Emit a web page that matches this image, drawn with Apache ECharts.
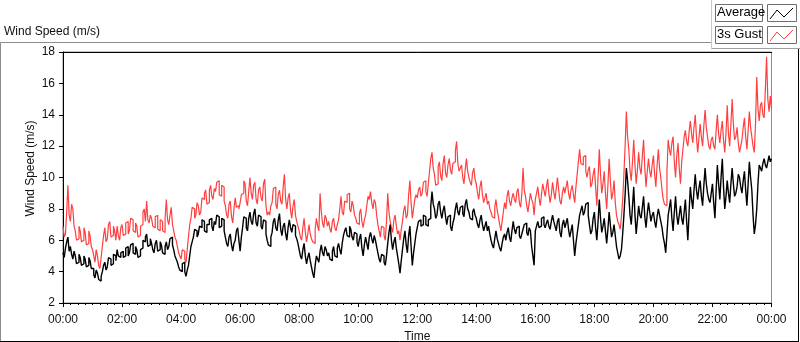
<!DOCTYPE html>
<html>
<head>
<meta charset="utf-8">
<script src="https://cdn.jsdelivr.net/npm/echarts@6/dist/echarts.min.js"></script>
<style>
html,body{margin:0;padding:0;background:#fff;}
#c{width:800px;height:342px;}
</style>
</head>
<body>
<div id="c"></div>
<script>
// Time axis tick labels (every 2 hours)
const timeLabels = ['00:00','02:00','04:00','06:00','08:00','10:00','12:00','14:00','16:00','18:00','20:00','22:00','00:00'];
const stepMinutes = 2.5;
const seriesNames = ['Average', '3s Gust'];

// Average wind speed (m/s), one value every 2.5 minutes (24 per hour), 00:00 .. 24:00
const average = [
  5.2,4.9,5.5,5.9,6.2,5.3,5.6,5.1,4.8,5.3,5.0,4.5,4.6,5.1,4.9,4.4,4.5,5.0,4.8,4.3,4.4,4.9,4.7,4.2,
  4.2,3.8,3.6,4.1,3.9,3.5,3.4,3.7,4.0,4.4,4.6,4.1,4.3,4.9,4.8,4.4,4.5,5.1,5.0,4.7,5.4,5.0,4.9,5.2,
  5.3,4.9,5.0,5.5,5.6,5.0,5.2,5.7,5.8,5.2,5.1,5.6,5.4,4.9,5.0,5.4,5.5,6.0,5.9,6.2,6.4,5.6,5.7,6.1,
  5.8,5.4,5.2,5.8,6.0,5.3,5.4,5.9,5.7,5.2,5.1,5.6,5.9,5.4,5.6,6.1,6.2,5.7,5.4,5.0,4.8,4.6,4.3,4.1,
  4.0,4.5,4.6,4.0,3.7,4.1,4.4,5.0,5.6,5.9,6.2,6.7,6.6,6.2,6.4,6.9,6.8,7.3,7.2,6.6,6.5,7.0,7.0,7.3,
  7.4,6.9,6.6,7.2,7.0,7.6,7.5,6.8,6.9,7.4,7.3,6.6,6.2,5.8,5.6,6.2,6.4,5.7,5.3,5.8,6.0,6.6,6.8,6.0,
  5.3,6.2,6.8,7.5,7.4,6.8,6.6,7.4,7.8,7.2,7.0,7.7,8.0,7.1,6.9,7.6,7.5,6.9,6.7,7.3,7.2,6.4,6.0,5.7,
  5.6,6.2,6.5,7.2,7.4,6.8,6.6,7.3,7.7,6.7,6.3,6.9,7.1,6.4,6.0,6.8,7.3,6.8,6.5,7.0,6.9,6.3,6.1,5.8,
  5.4,5.0,4.8,5.4,5.8,5.0,4.5,4.9,5.2,4.7,4.3,3.9,3.6,4.4,5.0,4.8,4.6,5.3,5.7,5.2,5.0,5.6,5.4,5.0,
  5.2,4.8,4.7,5.3,5.6,5.0,4.9,5.5,5.8,5.4,5.1,5.8,6.3,6.6,6.8,6.3,6.2,6.9,6.7,6.2,6.0,6.5,6.4,5.9,
  5.6,6.1,6.4,5.5,5.0,5.7,6.2,5.8,5.4,6.2,6.5,6.1,5.8,6.3,6.0,5.6,5.2,4.8,4.6,5.1,5.0,4.6,4.4,5.0,
  5.8,6.5,7.0,6.0,5.4,5.9,6.2,5.5,5.0,4.5,3.9,4.7,5.4,6.1,6.6,5.7,5.2,6.3,6.9,5.6,4.4,5.2,5.8,6.4,
  6.8,7.2,7.3,6.9,7.0,7.6,7.5,7.0,6.9,7.3,7.4,8.2,9.1,8.3,8.0,7.4,7.6,8.3,8.5,7.8,7.4,7.9,8.2,7.5,
  7.0,7.5,7.6,6.9,6.6,7.1,7.4,8.0,8.4,7.8,7.6,8.1,8.2,7.7,7.5,8.3,8.6,8.0,7.8,7.4,7.3,7.8,8.0,7.6,
  7.4,7.0,6.8,7.3,7.6,7.0,6.6,6.9,7.2,6.6,6.9,6.4,6.0,5.7,5.5,6.1,6.6,6.1,5.8,5.5,5.3,5.8,6.2,6.4,
  6.0,6.5,6.8,6.2,5.9,6.6,7.2,6.7,6.4,6.8,6.9,6.3,6.1,6.4,6.7,7.0,7.1,6.5,6.3,6.8,6.6,5.6,5.0,4.4,
  6.6,6.9,7.2,6.8,6.9,7.4,7.5,7.0,6.8,7.1,7.3,6.9,6.7,7.2,7.6,7.2,6.9,6.6,7.2,7.4,6.5,6.2,7.0,7.3,
  6.8,7.1,7.4,6.7,6.2,6.6,7.0,6.0,5.0,5.8,6.4,7.0,7.6,7.9,8.2,7.6,7.8,8.3,8.4,7.6,7.0,6.4,6.6,7.4,
  7.8,6.8,6.0,7.2,8.6,7.4,6.5,6.9,7.4,6.6,5.8,6.7,7.8,7.0,6.2,6.5,7.0,6.3,5.6,5.2,4.8,5.0,5.4,6.4,
  7.6,8.9,10.6,9.8,8.8,7.6,7.0,8.2,9.4,7.6,6.4,7.3,8.2,7.6,7.4,8.1,8.8,7.5,6.8,7.7,8.4,7.8,7.2,7.6,
  7.8,7.2,6.8,7.5,8.0,7.6,7.2,6.8,6.2,5.8,5.2,6.4,7.6,8.1,8.6,7.4,6.6,7.8,8.8,7.6,7.0,7.6,8.2,7.4,
  7.0,7.8,8.6,7.2,6.0,7.8,9.4,8.6,8.0,9.2,10.2,9.2,8.6,9.3,9.8,8.8,8.2,9.5,10.6,9.6,9.0,8.6,8.4,9.0,
  9.6,8.4,7.4,9.2,10.8,9.6,8.6,10.0,11.2,9.4,8.0,8.8,9.8,9.0,8.4,9.6,10.6,9.6,8.8,9.0,9.4,10.2,10.0,9.4,
  9.0,9.8,10.4,9.2,8.2,9.6,11.0,10.0,9.2,7.6,6.4,7.0,8.0,9.6,10.8,10.6,10.4,10.9,11.2,10.8,10.6,11.0,11.4,11.0,
  11.2
];

// 3-second gust (m/s), one value every 2.5 minutes (24 per hour), 00:00 .. 24:00
const gust = [
  6.9,6.2,6.4,7.8,9.5,7.6,7.2,8.3,8.0,6.9,6.6,6.0,6.1,6.9,6.6,5.9,6.0,6.8,6.5,5.7,5.8,6.6,6.3,5.6,
  5.4,5.0,4.6,5.4,5.0,4.4,4.2,4.9,5.6,6.3,6.8,5.9,6.1,7.0,7.2,6.2,6.3,6.9,6.6,6.0,6.9,6.3,6.0,6.8,
  7.0,6.3,6.4,7.1,7.2,6.4,6.6,7.4,7.3,6.6,6.5,7.1,6.9,6.2,6.3,6.9,7.0,7.8,8.0,7.2,8.5,7.3,7.1,7.6,
  7.4,6.9,6.8,7.5,7.6,6.7,6.6,7.3,7.2,6.6,6.5,7.4,8.6,7.3,7.0,7.6,8.1,7.0,6.6,6.2,6.0,5.6,5.2,5.0,
  4.8,5.4,5.3,4.8,4.6,5.4,6.2,7.0,7.4,8.1,8.0,7.4,7.6,8.4,8.2,7.6,7.8,8.7,8.6,9.0,9.2,8.3,8.4,9.2,
  9.5,8.8,8.6,9.3,9.1,9.7,9.8,8.9,8.8,9.5,9.4,8.5,8.2,7.6,7.4,8.3,8.5,7.5,7.1,8.0,8.7,8.1,8.2,8.0,
  8.4,8.9,9.0,9.8,9.6,8.5,8.2,9.1,10.0,9.0,8.6,9.5,9.7,8.6,8.3,9.2,9.4,8.7,8.5,9.6,9.9,8.2,7.6,7.8,
  7.6,8.2,8.4,9.3,9.4,8.3,8.0,8.9,9.2,8.5,8.3,9.4,10.2,8.6,8.0,8.7,9.0,7.9,7.4,8.2,8.6,7.6,7.2,6.9,
  6.6,6.2,6.0,6.8,7.4,6.5,5.9,6.4,7.0,6.4,6.1,5.9,5.8,6.7,7.4,6.9,6.6,9.0,7.8,7.1,6.8,7.6,7.4,6.9,
  7.2,6.7,6.5,7.2,7.4,6.8,6.6,7.0,7.3,8.0,8.8,7.8,7.6,8.5,8.4,8.9,9.0,8.0,7.8,8.5,8.2,7.6,7.4,7.1,
  7.0,7.7,8.0,7.2,6.8,7.3,7.6,8.2,8.8,8.6,9.1,8.4,8.0,8.6,8.4,7.6,7.0,6.6,6.2,6.9,6.8,6.3,6.0,7.2,
  9.0,7.8,7.2,6.8,6.5,7.3,7.6,6.9,6.4,6.6,6.0,6.7,7.2,7.9,8.2,7.4,7.6,8.9,9.8,8.4,7.4,8.0,8.6,8.9,
  8.7,9.2,9.4,8.8,9.0,9.7,9.8,9.1,8.8,9.6,10.4,11.2,11.6,10.6,10.2,9.5,9.6,10.7,11.0,10.1,9.8,10.9,11.4,10.3,
  10.0,10.8,11.2,10.5,10.2,10.9,11.0,11.7,12.3,10.9,10.4,10.6,10.8,10.0,9.6,10.5,11.2,10.4,10.0,9.7,9.5,10.3,10.6,9.9,
  9.6,9.0,8.6,9.4,9.8,8.9,8.4,8.7,9.0,8.3,8.5,8.0,7.8,7.5,7.4,8.1,8.6,7.9,7.5,7.0,6.6,7.2,7.8,8.4,
  8.0,8.8,9.2,8.5,8.2,8.7,9.0,8.6,8.4,9.1,9.3,8.4,8.1,8.9,10.6,9.2,8.8,8.2,7.8,8.4,9.0,8.6,8.4,7.6,
  8.6,9.0,9.4,8.7,8.2,8.9,9.6,9.2,8.8,9.4,9.9,9.0,8.4,8.9,9.7,9.1,8.6,9.3,10.0,9.2,8.5,8.3,9.0,9.4,
  9.0,9.4,9.8,9.0,8.6,9.2,9.5,8.9,8.4,9.4,10.2,11.0,11.8,10.9,10.8,11.3,11.4,10.4,10.0,10.5,10.7,9.4,9.6,10.2,
  10.6,9.4,8.2,10.0,11.8,10.2,9.0,9.6,10.4,9.0,8.0,9.5,11.2,9.8,8.6,9.0,9.8,8.4,7.6,7.2,7.0,6.7,7.5,8.6,
  10.2,12.0,14.2,12.6,11.8,10.4,9.8,11.0,12.4,10.8,9.6,10.5,11.6,10.6,10.2,11.4,12.4,10.6,9.4,10.4,11.2,10.4,10.0,10.8,
  11.4,10.2,9.4,10.8,11.8,10.6,10.0,9.2,8.6,8.3,8.2,10.4,12.4,11.8,11.4,12.2,12.6,11.0,10.0,11.4,12.2,10.6,9.6,11.0,
  11.8,12.6,13.0,12.3,12.0,12.9,13.6,12.8,12.2,13.2,14.0,12.6,11.6,12.5,13.4,12.6,12.0,13.3,14.3,13.2,12.6,12.0,11.8,12.4,
  12.6,12.0,11.8,13.0,14.0,12.8,12.2,13.0,13.6,12.4,11.6,12.8,14.6,12.8,12.0,13.4,15.0,13.4,12.4,12.6,13.2,12.2,11.6,12.0,
  12.4,13.2,13.8,12.6,11.8,13.0,14.2,13.2,12.6,12.0,11.6,13.4,16.4,14.4,13.6,14.6,14.8,14.0,13.8,15.6,17.7,15.0,14.2,15.2,
  14.4
];

const toPairs = arr => arr.map((v, i) => [i * stepMinutes, v]);

const chart = echarts.init(document.getElementById('c'), null, {renderer: 'canvas'});
const FONT = 'Liberation Sans';
const TXT = '#101010';

const option = {
  animation: false,
  backgroundColor: '#ffffff',
  grid: {left: 63, top: 52, width: 708.5, height: 251, outerBoundsMode: 'none', containLabel: false,
    show: true, borderColor: '#8c8c8c', borderWidth: 1, backgroundColor: '#ffffff'},
  xAxis: [{
    type: 'value', min: 0, max: 1440, interval: 120,
    name: 'Time', nameLocation: 'middle', nameGap: 26,
    nameTextStyle: {fontFamily: FONT, fontSize: 12, color: TXT},
    axisLine: {show: true, lineStyle: {color: '#000', width: 1}},
    axisTick: {show: true, length: 4, lineStyle: {color: '#000'}},
    minorTick: {show: true, splitNumber: 8, length: 2, lineStyle: {color: '#000'}},
    axisLabel: {fontFamily: FONT, fontSize: 12, color: TXT, margin: 11,
      formatter: v => timeLabels[Math.round(v / 120)]},
    splitLine: {show: false}
  }, {
    type: 'value', min: 0, max: 1440, position: 'top',
    axisLine: {show: true, lineStyle: {color: '#000', width: 1}},
    axisTick: {show: false}, axisLabel: {show: false}, splitLine: {show: false}
  }],
  yAxis: {
    type: 'value', min: 2, max: 18, interval: 2,
    name: 'Wind Speed (m/s)', nameLocation: 'middle', nameGap: 26, nameMoveOverlap: false,
    nameTextStyle: {fontFamily: FONT, fontSize: 12, color: TXT, padding: [0, 0, 0, 18]},
    axisLine: {show: true, lineStyle: {color: '#000', width: 1}},
    axisTick: {show: true, length: 4, lineStyle: {color: '#000'}},
    axisLabel: {fontFamily: FONT, fontSize: 12, color: TXT, margin: 8},
    splitLine: {show: false}
  },
  series: [{
    name: seriesNames[1], type: 'line', step: 'end', showSymbol: false,
    data: toPairs(gust), lineStyle: {color: '#ff3f3f', width: 1.2}, itemStyle: {color: '#ff3f3f'}
  }, {
    name: seriesNames[0], type: 'line', step: 'end', showSymbol: false,
    data: toPairs(average), lineStyle: {color: '#000000', width: 1.4}, itemStyle: {color: '#000'}
  }],
  graphic: [
    // panel frame
    {type: 'line', shape: {x1: 0.5, y1: 42.5, x2: 711.5, y2: 42.5}, style: {stroke: '#8c8c8c', lineWidth: 1}, silent: true},
    {type: 'line', shape: {x1: 0.5, y1: 42.5, x2: 0.5, y2: 341.5}, style: {stroke: '#8c8c8c', lineWidth: 1}, silent: true},
    {type: 'line', shape: {x1: 0, y1: 341.5, x2: 798.5, y2: 341.5}, style: {stroke: '#000', lineWidth: 1}, silent: true},
    {type: 'line', shape: {x1: 798.5, y1: 49, x2: 798.5, y2: 342}, style: {stroke: '#000', lineWidth: 1}, silent: true},
    {type: 'line', shape: {x1: 711.5, y1: 0, x2: 711.5, y2: 48.5}, style: {stroke: '#c8c8c8', lineWidth: 1}, silent: true},
    {type: 'line', shape: {x1: 711.5, y1: 48.5, x2: 800, y2: 48.5}, style: {stroke: '#a0a0a0', lineWidth: 1}, silent: true},
    // title
    {type: 'text', left: 4, top: 26, style: {text: 'Wind Speed (m/s)', font: '12px "Liberation Sans"', fill: TXT}, silent: true},
    // legend row 1
    {type: 'rect', shape: {x: 715.5, y: 4.5, width: 47, height: 17}, style: {fill: '#fff', stroke: '#6e6e6e', lineWidth: 1}, silent: true},
    {type: 'text', left: 717, top: 6, style: {text: seriesNames[0], font: '13px "Liberation Sans"', fill: '#000'}, silent: true},
    {type: 'rect', shape: {x: 767.5, y: 4.5, width: 29, height: 17}, style: {fill: '#fff', stroke: '#6e6e6e', lineWidth: 1}, silent: true},
    {type: 'polyline', shape: {points: [[770, 19], [777, 10], [784, 17], [793, 8]]}, style: {stroke: '#000', lineWidth: 1, fill: null}, silent: true},
    // legend row 2
    {type: 'rect', shape: {x: 715.5, y: 26.5, width: 47, height: 17}, style: {fill: '#fff', stroke: '#6e6e6e', lineWidth: 1}, silent: true},
    {type: 'text', left: 717, top: 28, style: {text: seriesNames[1], font: '13px "Liberation Sans"', fill: '#000'}, silent: true},
    {type: 'rect', shape: {x: 767.5, y: 26.5, width: 29, height: 17}, style: {fill: '#fff', stroke: '#6e6e6e', lineWidth: 1}, silent: true},
    {type: 'polyline', shape: {points: [[770, 41], [777, 32], [784, 39], [793, 30]]}, style: {stroke: '#ff3f3f', lineWidth: 1, fill: null}, silent: true}
  ]
};
chart.setOption(option);
</script>
</body>
</html>
